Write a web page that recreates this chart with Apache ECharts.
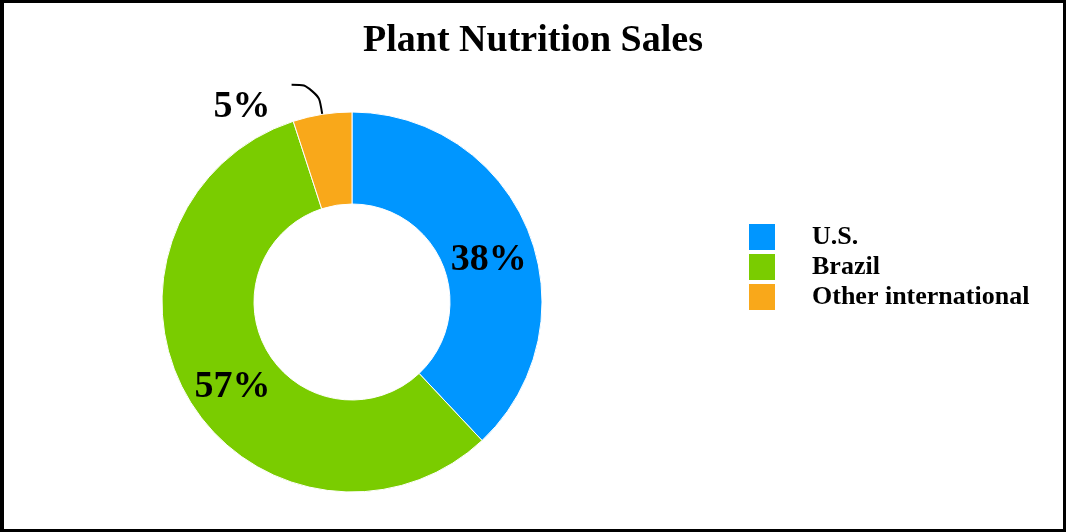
<!DOCTYPE html>
<html>
<head>
<meta charset="utf-8">
<script src="https://cdn.jsdelivr.net/npm/echarts@6/dist/echarts.min.js"></script>
<style>
html,body{margin:0;padding:0;background:#fff;}
#wrap{position:absolute;left:0;top:0;width:1066px;height:532px;box-sizing:border-box;border:3px solid #000;border-left-width:4px;}
#chart{position:absolute;left:0;top:0;width:1066px;height:532px;}
</style>
</head>
<body>
<div id="chart"></div>
<div id="wrap"></div>
<script>
const titleText = 'Plant Nutrition Sales';
const categories = ['U.S.', 'Brazil', 'Other international'];
const values = [38, 57, 5];
const colors = ['#0096FF', '#7ACC00', '#F9A81A'];

const labelOffsets = [[0, 12], [7, 10], [0, 0]];
const labelPositions = ['inside', 'inside', 'outside'];

const chart = echarts.init(document.getElementById('chart'));
const font = "'Liberation Serif', 'Times New Roman', serif";
chart.setOption({
  animation: false,
  backgroundColor: '#fff',
  title: {
    text: titleText, left: 'center', top: 17,
    textStyle: {fontFamily: font, fontWeight: 'bold', fontSize: 38, color: '#000'}
  },
  legend: {
    orient: 'vertical', left: 749, top: 224, padding: 0,
    itemWidth: 26, itemHeight: 26, itemGap: 4, icon: 'rect',
    itemStyle: {borderWidth: 0},
    data: categories,
    textStyle: {fontFamily: font, fontWeight: 'bold', fontSize: 26, lineHeight: 26, color: '#000', padding: [0, 0, 0, 32]}
  },
  series: [{
    type: 'pie',
    center: [352, 302],
    radius: [98, 190],
    startAngle: 90,
    clockwise: true,
    avoidLabelOverlap: false,
    itemStyle: {borderColor: '#fff', borderWidth: 1},
    label: {
      formatter: p => p.value + '%',
      fontFamily: font, fontWeight: 'bold', fontSize: 38, color: '#000'
    },
    labelLine: {smooth: 0.5, length: 30, length2: 26, lineStyle: {color: '#000', width: 2}},
    labelLayout: function (params) {
      return labelPositions[params.dataIndex] === 'outside' ? {dy: 22} : {};
    },
    data: categories.map((c, i) => ({
      name: c, value: values[i],
      itemStyle: {color: colors[i]},
      label: labelPositions[i] === 'outside'
        ? {position: 'outside', distanceToLabelLine: 21}
        : {position: 'inside', offset: labelOffsets[i]},
      labelLine: {show: labelPositions[i] === 'outside'}
    }))
  }]
});
</script>
</body>
</html>
